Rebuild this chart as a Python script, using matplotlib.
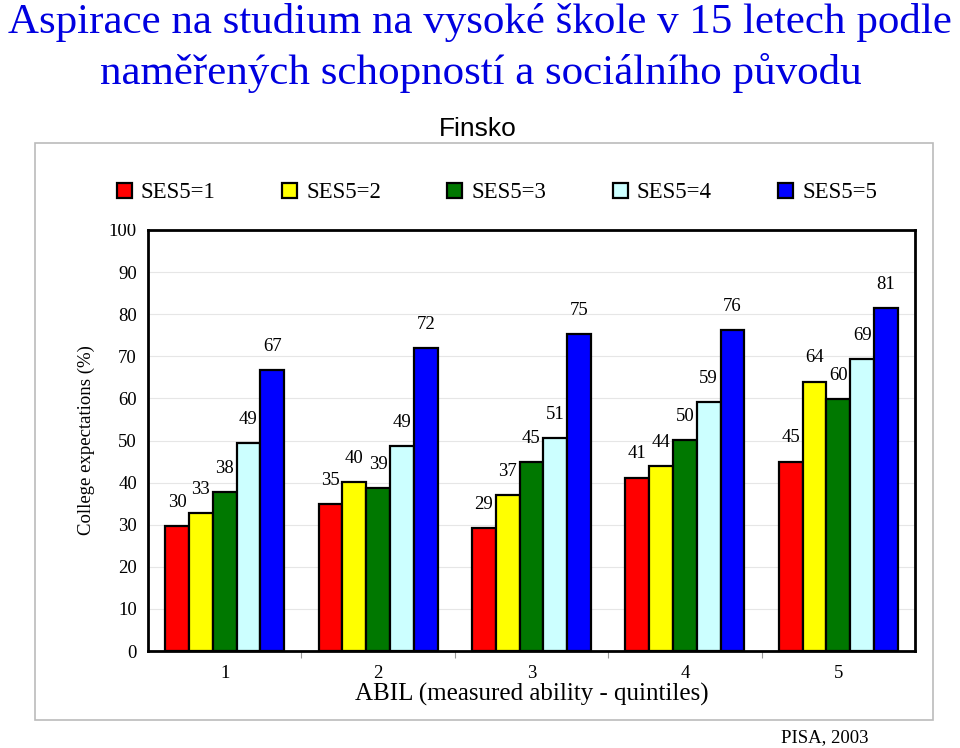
import matplotlib
matplotlib.use("Agg")
import matplotlib.pyplot as plt
import numpy as np
from matplotlib.patches import Rectangle

categories = ["1", "2", "3", "4", "5"]
series_names = ["SES5=1", "SES5=2", "SES5=3", "SES5=4", "SES5=5"]
ses1 = [29.7, 34.9, 29.1, 41.2, 45.0]
ses2 = [32.8, 40.1, 37.0, 43.9, 64.0]
ses3 = [37.8, 38.7, 44.9, 50.2, 59.9]
ses4 = [49.4, 48.7, 50.6, 59.1, 69.4]
ses5 = [66.7, 72.0, 75.2, 76.2, 81.4]
colors = ["#ff0000", "#ffff00", "#007800", "#ccffff", "#0000ff"]
yticks = [0, 10, 20, 30, 40, 50, 60, 70, 80, 90, 100]

series = [ses1, ses2, ses3, ses4, ses5]

serif = ["Liberation Serif", "DejaVu Serif"]
sans = ["Liberation Sans", "DejaVu Sans"]

fig = plt.figure(figsize=(9.6, 7.48), dpi=100)

# outer light frame
fig.patches.append(Rectangle((35/960, 1-720/748), (933-35)/960, (720-143)/748,
                             transform=fig.transFigure, fill=False,
                             edgecolor="#bbbbbb", linewidth=1.2))

fig.text(0.5, 1-22/748, "Aspirace na studium na vysoké škole v 15 letech podle",
         ha="center", va="center", fontsize=31, color="#0000e0", family=serif)
fig.text(481/960, 1-73/748, "naměřených schopností a sociálního původu",
         ha="center", va="center", fontsize=31, color="#0000e0", family=serif)
fig.text(478/960, 1-129/748, "Finsko", ha="center", va="center",
         fontsize=19, color="black", family=sans)

ax = fig.add_axes([148/960, 1-651/748, (915-148)/960, (651-230)/748])
x = np.arange(len(categories))
w = 0.155
for i, (vals, name, c) in enumerate(zip(series, series_names, colors)):
    pos = x + (i - 2) * w
    ax.bar(pos, vals, width=w, color=c, edgecolor="black", linewidth=1.6,
           label=name, zorder=3)
    for px, v in zip(pos, vals):
        ax.annotate(f"{round(v):d}", (px, v), xytext=(0, 17), textcoords="offset points",
                    ha="center", va="center", fontsize=13.5, family=serif)

ax.set_xlim(-0.5, 4.5)
ax.set_ylim(0, 100)
ax.set_yticks(yticks)
ax.set_yticklabels([str(t) for t in yticks], family=serif, fontsize=13.5)
ax.yaxis.grid(True, color="#e6e6e6", linewidth=0.8, zorder=0)
ax.set_axisbelow(True)
ax.tick_params(axis="y", length=0, pad=8)
ax.set_xticks(x)
ax.set_xticklabels(categories, family=serif, fontsize=13.5)
ax.tick_params(axis="x", which="major", length=0, pad=10)
ax.set_xticks(np.arange(0.5, 4.5, 1.0), minor=True)
ax.tick_params(axis="x", which="minor", length=5, color="#999999", width=0.8)
for s in ax.spines.values():
    s.set_linewidth(2.0)
    s.set_color("black")

ax.set_xlabel("ABIL (measured ability - quintiles)", family=serif, fontsize=18, labelpad=1)
ax.set_ylabel("College expectations (%)", family=serif, fontsize=13.5, labelpad=10)

# white band partly hiding the "100" label as in the reference
fig.patches.append(Rectangle((100/960, 1-224/748), 40/960, 20/748,
                             transform=fig.transFigure, facecolor="white",
                             edgecolor="none", zorder=5))

leg = fig.legend(loc="center", bbox_to_anchor=(497/960, 1-193/748), ncol=5,
                 frameon=False, prop={"family": serif, "size": 16.5},
                 handlelength=0.65, handleheight=0.65, handletextpad=0.4,
                 columnspacing=2.9)

fig.text(825/960, 1-738/748, "PISA, 2003", ha="center", va="center",
         fontsize=13.5, family=serif)

fig.savefig("out.png", dpi=100)
